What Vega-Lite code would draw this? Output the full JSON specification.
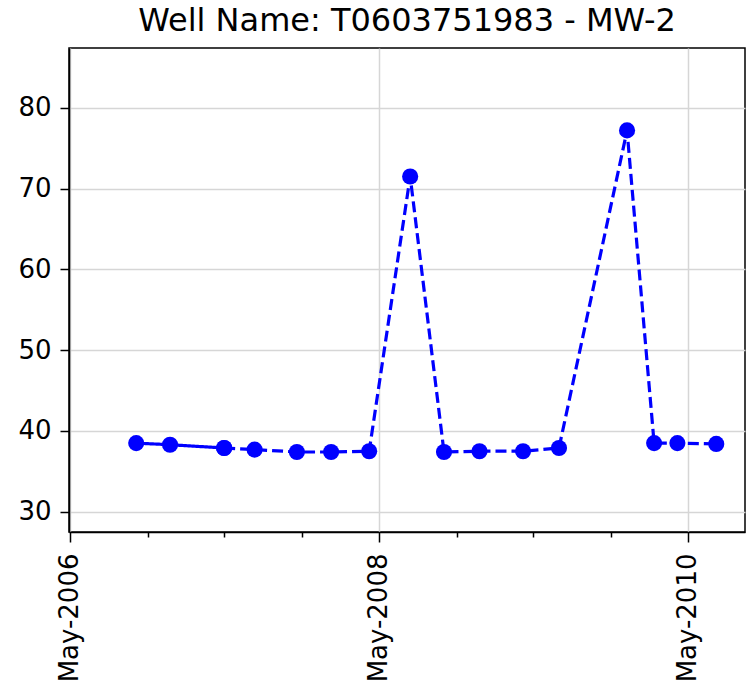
{
  "$schema": "https://vega.github.io/schema/vega-lite/v6.json",
  "width": 676,
  "height": 484,
  "autosize": {"type": "none"},
  "padding": {"left": 69, "top": 48, "right": 1, "bottom": 154},
  "background": "white",
  "config": {
    "font": "DejaVu Sans",
    "view": {"stroke": "black", "strokeWidth": 1.5},
    "axis": {"domainColor": "black", "domainWidth": 1.5, "tickColor": "black", "tickWidth": 1.5, "labelColor": "black", "labelFont": "DejaVu Sans", "labelFontSize": 26, "gridColor": "#d6d6d6", "gridWidth": 1.5, "title": null}
  },
  "title": {"text": "Well Name: T0603751983 - MW-2", "font": "DejaVu Sans", "fontSize": 32, "fontWeight": "normal", "color": "black", "offset": 10},
  "data": {"values": [
    {"date": "2006-10-05", "value": 38.5, "seg": "a"},
    {"date": "2006-12-24", "value": 38.3, "seg": "a"},
    {"date": "2007-05-01", "value": 37.9, "seg": "a"},
    {"date": "2007-05-01", "value": 37.9, "seg": "b"},
    {"date": "2007-07-12", "value": 37.7, "seg": "b"},
    {"date": "2007-10-20", "value": 37.4, "seg": "b"},
    {"date": "2008-01-09", "value": 37.4, "seg": "b"},
    {"date": "2008-04-08", "value": 37.5, "seg": "b"},
    {"date": "2008-07-14", "value": 71.5, "seg": "b"},
    {"date": "2008-10-02", "value": 37.4, "seg": "b"},
    {"date": "2008-12-25", "value": 37.5, "seg": "b"},
    {"date": "2009-04-07", "value": 37.5, "seg": "b"},
    {"date": "2009-07-01", "value": 37.9, "seg": "b"},
    {"date": "2009-12-09", "value": 77.2, "seg": "b"},
    {"date": "2010-02-11", "value": 38.5, "seg": "b"},
    {"date": "2010-04-07", "value": 38.5, "seg": "b"},
    {"date": "2010-07-08", "value": 38.4, "seg": "b"}
  ]},
  "encoding": {
    "x": {
      "field": "date", "type": "temporal",
      "scale": {"type": "utc", "domain": [{"year": 2006, "month": 4, "date": 29, "utc": true}, {"year": 2010, "month": 9, "date": 14, "utc": true}], "nice": false},
      "axis": {
        "values": [
          {"year": 2006, "month": 5, "date": 1, "utc": true},
          {"year": 2006, "month": 11, "date": 1, "utc": true},
          {"year": 2007, "month": 5, "date": 1, "utc": true},
          {"year": 2007, "month": 11, "date": 1, "utc": true},
          {"year": 2008, "month": 5, "date": 1, "utc": true},
          {"year": 2008, "month": 11, "date": 1, "utc": true},
          {"year": 2009, "month": 5, "date": 1, "utc": true},
          {"year": 2009, "month": 11, "date": 1, "utc": true},
          {"year": 2010, "month": 5, "date": 1, "utc": true}
        ],
        "labelExpr": "(utcmonth(datum.value) == 4 && utcyear(datum.value) % 2 == 0) ? utcFormat(datum.value, '%b-%Y') : ''",
        "labelAngle": -90,
        "labelPadding": 11,
        "tickSize": {"condition": {"test": "utcmonth(datum.value) == 4 && utcyear(datum.value) % 2 == 0", "value": 10}, "value": 5},
        "gridOpacity": {"condition": {"test": "utcmonth(datum.value) == 4 && utcyear(datum.value) % 2 == 0", "value": 1}, "value": 0},
        "labelFlush": false,
        "labelOverlap": false,
        "grid": true
      }
    },
    "y": {
      "field": "value", "type": "quantitative",
      "scale": {"domain": [27.5, 87.4], "nice": false, "zero": false},
      "axis": {"values": [30, 40, 50, 60, 70, 80], "tickSize": 9, "labelPadding": 9, "grid": true, "labelFlush": false}
    }
  },
  "layer": [
    {
      "mark": {"type": "line", "color": "#0000ff", "strokeWidth": 3.2},
      "encoding": {
        "detail": {"field": "seg"},
        "strokeDash": {"field": "seg", "type": "nominal", "scale": {"domain": ["a", "b"], "range": [[1, 0], [11, 5]]}, "legend": null}
      }
    },
    {
      "mark": {"type": "point", "filled": true, "color": "#0000ff", "opacity": 1, "size": 260}
    }
  ]
}
